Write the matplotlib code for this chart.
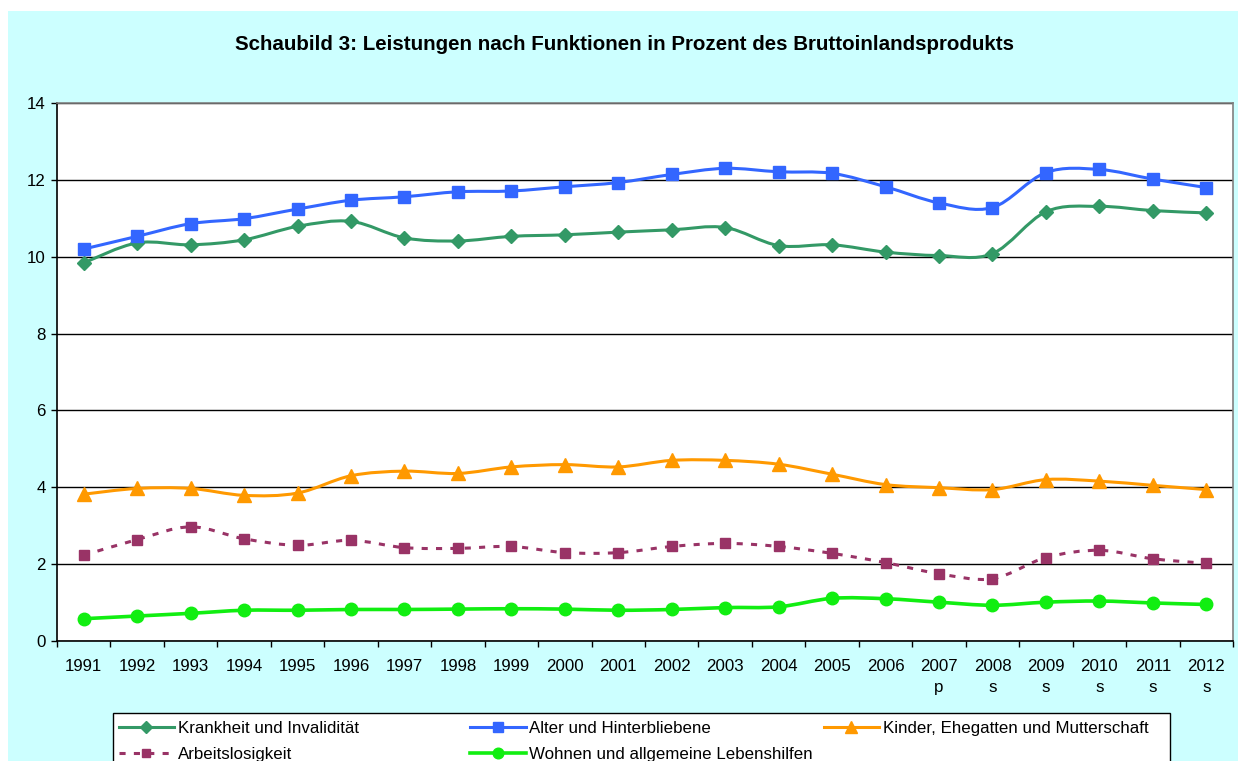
import matplotlib.pyplot as plt
from matplotlib.path import Path
from matplotlib.patches import PathPatch, Rectangle
from matplotlib.lines import Line2D

plt.rcParams['font.family'] = ['Liberation Sans', 'DejaVu Sans']

years = [str(y) for y in range(1991, 2013)]
yearNotes = [''] * 16 + ['p', 's', 's', 's', 's', 's']

krankheit = [9.84, 10.36, 10.31, 10.44, 10.79, 10.92, 10.49, 10.41, 10.53, 10.57, 10.64,
             10.70, 10.76, 10.29, 10.31, 10.12, 10.03, 10.08, 11.17, 11.31, 11.20, 11.14]
alter = [10.20, 10.53, 10.86, 10.99, 11.24, 11.47, 11.56, 11.69, 11.71, 11.82, 11.93,
         12.14, 12.30, 12.21, 12.17, 11.82, 11.40, 11.28, 12.19, 12.27, 12.02, 11.80]
kinder = [3.82, 3.97, 3.97, 3.79, 3.85, 4.30, 4.42, 4.36, 4.53, 4.59, 4.53,
          4.70, 4.70, 4.60, 4.34, 4.07, 3.99, 3.94, 4.20, 4.16, 4.05, 3.94]
arbeit = [2.23, 2.64, 2.97, 2.66, 2.49, 2.62, 2.43, 2.41, 2.46, 2.30, 2.30,
          2.46, 2.54, 2.46, 2.28, 2.04, 1.75, 1.62, 2.17, 2.36, 2.14, 2.02]
wohnen = [0.58, 0.65, 0.72, 0.80, 0.80, 0.82, 0.82, 0.83, 0.84, 0.83, 0.80,
          0.82, 0.87, 0.89, 1.11, 1.10, 1.01, 0.93, 1.01, 1.04, 0.99, 0.95]

seriesNames = ["Krankheit und Invalidität", "Alter und Hinterbliebene",
               "Kinder, Ehegatten und Mutterschaft", "Arbeitslosigkeit",
               "Wohnen und allgemeine Lebenshilfen"]
seriesValues = [krankheit, alter, kinder, arbeit, wohnen]
seriesStyles = [
    dict(color="#339966", marker="D", ms=7.5, lw=2.2, ls="-"),
    dict(color="#3366FF", marker="s", ms=8.5, lw=2.2, ls="-"),
    dict(color="#FF9900", marker="^", ms=9.5, lw=2.2, ls="-"),
    dict(color="#993366", marker="s", ms=7.5, lw=2.2, ls=(0, (2, 2.7))),
    dict(color="#11EE11", marker="o", ms=9, lw=2.6, ls="-"),
]

fontSize = 12.2


def smoothPath(xs, ys):
    # Excel-like smoothed line: Catmull-Rom segments as cubic Beziers
    pts = list(zip(xs, ys))
    n = len(pts)
    verts = [pts[0]]
    codes = [Path.MOVETO]
    for i in range(n - 1):
        p0 = pts[max(i - 1, 0)]
        p1 = pts[i]
        p2 = pts[i + 1]
        p3 = pts[min(i + 2, n - 1)]
        c1 = (p1[0] + (p2[0] - p0[0]) / 6, p1[1] + (p2[1] - p0[1]) / 6)
        c2 = (p2[0] - (p3[0] - p1[0]) / 6, p2[1] - (p3[1] - p1[1]) / 6)
        verts += [c1, c2, p2]
        codes += [Path.CURVE4] * 3
    return Path(verts, codes)


fig = plt.figure(figsize=(12.38, 7.61), dpi=100, facecolor="white")
W, H = 1238, 761
fig.patches.append(Rectangle((8 / W, 0), 1, (H - 11) / H, transform=fig.transFigure,
                             facecolor="#CCFFFF", edgecolor="none", zorder=-10))

ax = fig.add_axes([57 / W, (H - 641) / H, (1233 - 57) / W, (641 - 103) / H])
ax.set_facecolor("white")

xs = list(range(len(years)))
handles = []
for name, vals, st in zip(seriesNames, seriesValues, seriesStyles):
    ax.add_patch(PathPatch(smoothPath(xs, vals), facecolor="none", edgecolor=st["color"],
                           lw=st["lw"], linestyle=st["ls"], zorder=3))
    ax.plot(xs, vals, linestyle="none", marker=st["marker"], ms=st["ms"],
            color=st["color"], mec=st["color"], zorder=4)
    handles.append(Line2D([], [], color=st["color"], lw=st["lw"], linestyle=st["ls"],
                          marker=st["marker"], ms=st["ms"] * 0.85, mec=st["color"]))

ax.set_xlim(-0.5, len(years) - 0.5)
ax.set_ylim(0, 14)
ax.set_yticks(range(0, 15, 2))
ax.set_xticks([i - 0.5 for i in range(len(years) + 1)])
ax.set_xticklabels([])
ax.set_xticks(xs, minor=True)
ax.set_xticklabels([y + ("\n" + n if n else "") for y, n in zip(years, yearNotes)],
                   minor=True, linespacing=1.5)
ax.tick_params(axis="x", which="major", direction="out", length=4, width=1, color="black")
ax.tick_params(axis="x", which="minor", length=0, pad=13, labelsize=fontSize)
ax.tick_params(axis="y", direction="out", length=4, width=1, pad=4, labelsize=fontSize)
for lbl in ax.get_xticklabels(minor=True):
    lbl.set_verticalalignment("top")

ax.set_axisbelow(True)
ax.yaxis.grid(True, color="black", lw=1)
ax.spines["left"].set_color("black")
ax.spines["bottom"].set_color("black")
ax.spines["top"].set_color("#808080")
ax.spines["right"].set_color("#808080")
for s in ax.spines.values():
    s.set_linewidth(1.2)

fig.text(624 / W, (H - 45) / H, "Schaubild 3: Leistungen nach Funktionen in Prozent des Bruttoinlandsprodukts",
         ha="center", va="center", fontsize=14.8, fontweight="bold")

# legend: three columns with equal width inside one frame
fig.patches.append(Rectangle((113 / W, -0.05), (1170 - 113) / W, 0.05 + (H - 713) / H,
                             transform=fig.transFigure, facecolor="white",
                             edgecolor="black", lw=1, zorder=1))
columns = [[0, 3], [1, 4], [2]]
colX = [118.5, 470, 823.5]
for idx, cx in zip(columns, colX):
    leg = fig.legend([handles[i] for i in idx], [seriesNames[i] for i in idx],
                     loc="upper left", bbox_to_anchor=(cx / W, (H - 721) / H),
                     frameon=False, fontsize=fontSize, handlelength=3.3, handletextpad=0.2,
                     labelspacing=0.62, borderpad=0, borderaxespad=0)
    leg.set_zorder(2)

plt.savefig("out.png", dpi=100, facecolor="white")
